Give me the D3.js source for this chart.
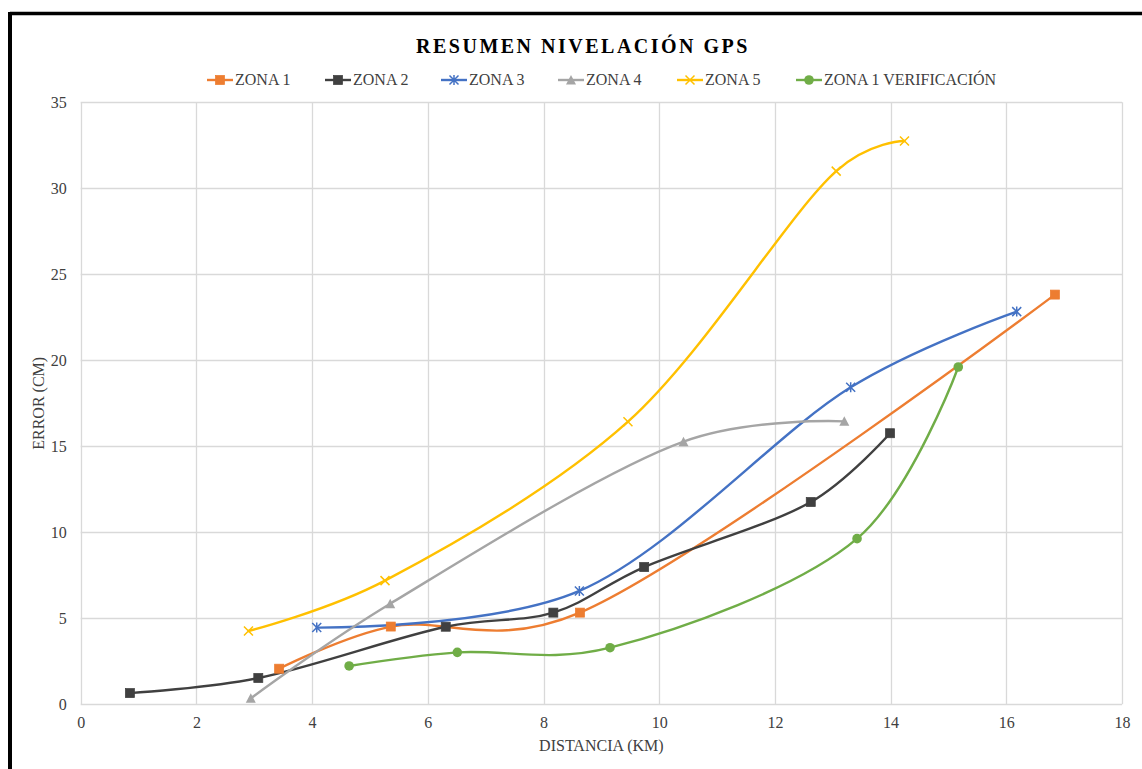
<!DOCTYPE html>
<html>
<head>
<meta charset="utf-8">
<script src="https://cdn.jsdelivr.net/npm/d3@7"></script>
<style>
  html, body { margin: 0; padding: 0; background: #fff; }
  svg { display: block; }
  text { font-family: "Liberation Serif", "Times New Roman", serif; }
</style>
</head>
<body>
<svg id="chart" width="1142" height="769"></svg>
<script>
// Survey zones: distance (km) vs. levelling error (cm)
const seriesNames = ["ZONA 1", "ZONA 2", "ZONA 3", "ZONA 4", "ZONA 5", "ZONA 1 VERIFICACIÓN"];

const zona1Dist = [3.43, 5.36, 8.63, 16.84];
const zona1Err  = [2.07, 4.52, 5.33, 23.82];

const zona2Dist = [0.85, 3.07, 6.31, 8.17, 9.74, 12.62, 13.99];
const zona2Err  = [0.65, 1.53, 4.51, 5.33, 7.98, 11.76, 15.76];

const zona3Dist = [4.08, 8.62, 13.31, 16.18];
const zona3Err  = [4.46, 6.59, 18.43, 22.83];

const zona4Dist = [2.94, 5.35, 10.42, 13.20];
const zona4Err  = [0.35, 5.85, 15.27, 16.45];

const zona5Dist = [2.90, 5.26, 9.46, 13.06, 14.24];
const zona5Err  = [4.26, 7.19, 16.43, 31.00, 32.75];

const verifDist = [4.64, 6.51, 9.15, 13.42, 15.17];
const verifErr  = [2.23, 3.02, 3.29, 9.63, 19.61];

const xTicks = [0, 2, 4, 6, 8, 10, 12, 14, 16, 18];
const yTicks = [0, 5, 10, 15, 20, 25, 30, 35];

const colors  = ["#ED7D31", "#404040", "#4472C4", "#A5A5A5", "#FFC000", "#70AD47"];
const markers = ["square", "square", "star", "triangle", "cross", "circle"];

const series = [
  [zona1Dist, zona1Err], [zona2Dist, zona2Err], [zona3Dist, zona3Err],
  [zona4Dist, zona4Err], [zona5Dist, zona5Err], [verifDist, verifErr]
].map(([xs, ys], i) => ({
  name: seriesNames[i], color: colors[i], marker: markers[i],
  points: xs.map((x, j) => ({ x, y: ys[j] }))
}));

const svg = d3.select("#chart");
const plot = { left: 80.7, right: 1122, top: 102.3, bottom: 704.3 };

const x = d3.scaleLinear().domain([0, 18]).range([plot.left, plot.right]);
const y = d3.scaleLinear().domain([0, 35]).range([plot.bottom, plot.top]);

// outer frame (top and left edges visible)
svg.append("line").attr("x1", 10).attr("x2", 1142).attr("y1", 13.5).attr("y2", 13.5)
  .attr("stroke", "#000").attr("stroke-width", 3.5);
svg.append("line").attr("x1", 10).attr("x2", 10).attr("y1", 12).attr("y2", 769)
  .attr("stroke", "#000").attr("stroke-width", 4);

// gridlines
const grid = svg.append("g");
grid.selectAll("line.h").data(yTicks).join("line")
  .attr("x1", plot.left).attr("x2", plot.right)
  .attr("y1", d => Math.round(y(d)) + 0.5).attr("y2", d => Math.round(y(d)) + 0.5)
  .attr("stroke", "#D9D9D9").attr("stroke-width", 1.3);
grid.selectAll("line.v").data(xTicks).join("line")
  .attr("y1", plot.top).attr("y2", plot.bottom)
  .attr("x1", d => Math.round(x(d)) + 0.5).attr("x2", d => Math.round(x(d)) + 0.5)
  .attr("stroke", "#D9D9D9").attr("stroke-width", 1.3);

// axes (labels only, lines are drawn by the grid)
const xAxis = svg.append("g").attr("transform", `translate(0,${plot.bottom})`)
  .call(d3.axisBottom(x).tickValues(xTicks).tickSize(0).tickPadding(12));
const yAxis = svg.append("g").attr("transform", `translate(${plot.left},0)`)
  .call(d3.axisLeft(y).tickValues(yTicks).tickSize(0).tickPadding(14));
[xAxis, yAxis].forEach(a => {
  a.select(".domain").remove();
  a.selectAll("text").attr("font-size", 16).attr("fill", "#404040");
});

// axis titles
svg.append("text").attr("x", (plot.left + plot.right) / 2).attr("y", 751)
  .attr("text-anchor", "middle").attr("font-size", 16).attr("fill", "#404040")
  .text("DISTANCIA (KM)");
svg.append("text").attr("transform", `translate(44,${(plot.top + plot.bottom) / 2}) rotate(-90)`)
  .attr("text-anchor", "middle").attr("font-size", 16).attr("fill", "#404040")
  .text("ERROR (CM)");

// chart title
svg.append("text").attr("x", 583).attr("y", 53).attr("text-anchor", "middle")
  .attr("font-size", 20).attr("font-weight", "bold").attr("letter-spacing", 2.5)
  .attr("fill", "#000").text("RESUMEN NIVELACIÓN GPS");

// marker drawing
function drawMarker(g, type, color, cx, cy) {
  const s = 4.5;
  if (type === "square") {
    g.append("rect").attr("x", cx - s).attr("y", cy - s).attr("width", 2 * s).attr("height", 2 * s)
      .attr("fill", color).attr("stroke", color).attr("stroke-width", 0.75);
  } else if (type === "circle") {
    g.append("circle").attr("cx", cx).attr("cy", cy).attr("r", s + 0.3).attr("fill", color);
  } else if (type === "triangle") {
    g.append("path").attr("d", `M${cx},${cy - s - 0.5}L${cx + s + 0.5},${cy + s}L${cx - s - 0.5},${cy + s}Z`)
      .attr("fill", color);
  } else if (type === "cross") {
    g.append("path").attr("d", `M${cx - s},${cy - s}L${cx + s},${cy + s}M${cx - s},${cy + s}L${cx + s},${cy - s}`)
      .attr("stroke", color).attr("stroke-width", 1.5).attr("fill", "none");
  } else if (type === "star") {
    g.append("path").attr("d", `M${cx - s},${cy - s}L${cx + s},${cy + s}M${cx - s},${cy + s}L${cx + s},${cy - s}M${cx},${cy - s - 0.5}L${cx},${cy + s + 0.5}`)
      .attr("stroke", color).attr("stroke-width", 1.5).attr("fill", "none");
  }
}

// smoothed series lines and markers
const line = d3.line().x(d => x(d.x)).y(d => y(d.y)).curve(d3.curveCatmullRom.alpha(0.25));
const plotG = svg.append("g");
series.forEach(s => {
  plotG.append("path").datum(s.points).attr("d", line)
    .attr("fill", "none").attr("stroke", s.color).attr("stroke-width", 2.4)
    .attr("stroke-linecap", "round").attr("stroke-linejoin", "round");
});
series.forEach(s => {
  const g = plotG.append("g");
  s.points.forEach(p => drawMarker(g, s.marker, s.color, x(p.x), y(p.y)));
});

// legend
const legendX = [207, 325, 441, 558, 677, 796];
const legend = svg.append("g");
series.forEach((s, i) => {
  const lx = legendX[i], ly = 80;
  const g = legend.append("g");
  g.append("line").attr("x1", lx).attr("x2", lx + 26).attr("y1", ly).attr("y2", ly)
    .attr("stroke", s.color).attr("stroke-width", 2.4);
  drawMarker(g, s.marker, s.color, lx + 13, ly);
  g.append("text").attr("x", lx + 28).attr("y", ly + 5).attr("font-size", 16)
    .attr("fill", "#404040").text(s.name);
});
</script>
</body>
</html>
